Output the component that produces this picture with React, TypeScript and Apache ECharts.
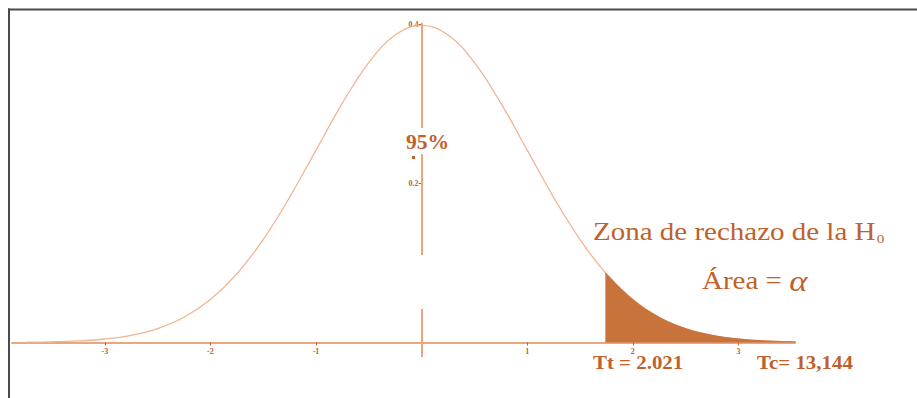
import React, { useEffect, useRef } from "react";
import * as echarts from "echarts";

// Density curve (x in t units, y = density)
const CURVE_X = [
  -3.75, -3.5, -3.25, -3.0, -2.75, -2.5, -2.25, -2.0, -1.75, -1.5, -1.25, -1.0, -0.75, -0.5, -0.25,
  0, 0.25, 0.5, 0.75, 1.0, 1.25, 1.5, 1.75, 2.0, 2.25, 2.5, 2.75, 3.0, 3.25, 3.5, 3.54,
];
const CURVE_Y = [
  0.0004, 0.0009, 0.002, 0.0044, 0.0091, 0.0175, 0.0317, 0.054, 0.0863, 0.1295, 0.1826, 0.242, 0.3011, 0.3521, 0.3867,
  0.3989, 0.3867, 0.3521, 0.3011, 0.242, 0.1826, 0.1295, 0.0863, 0.054, 0.0317, 0.0175, 0.0091, 0.0044, 0.002, 0.0009, 0.0008,
];
// Rejection region (shaded tail)
const SHADE_X = [1.74, 2.0, 2.25, 2.5, 2.75, 3.0, 3.25, 3.54];
const SHADE_Y = [0.0878, 0.054, 0.0317, 0.0175, 0.0091, 0.0044, 0.002, 0.0008];
// Tick values and labels
const X_TICKS = [-3, -2, -1, 1, 2, 3];
const Y_TICKS = [0.2, 0.4];
// Vertical axis drawn in pieces (from, to) in density units
const V_SEGMENTS = [
  [0.4023, 0.2698],
  [0.2371, 0.1101],
  [0.0421, -0.0182],
];
// Texts
const CENTER_LABEL = "95%";
const ZONE_LABEL = "Zona de rechazo de la H";
const ZONE_SUB = "0";
const AREA_LABEL = "Área = ";
const ALPHA = "α";
const TT_LABEL = "Tt = 2.021";
const TC_LABEL = "Tc= 13,144";

const TEXT_COLOR = "#c0612b";
const FILL_COLOR = "#c8733b";
const CURVE_COLOR = "#f0b592";
const AXIS_COLOR = "#eca67e";
const SERIF = "'Liberation Serif', 'Times New Roman', serif";

export default function App() {
  const ref = useRef<HTMLDivElement>(null);
  useEffect(() => {
    if (!ref.current) return;
    const chart = echarts.init(ref.current, null, { renderer: "svg" });
    const pair = (xs: number[], ys: number[]) => xs.map((x, i) => [x, ys[i]]);
    chart.setOption({
      animation: false,
      backgroundColor: "#ffffff",
      grid: { left: 12, top: 2, width: 783, height: 340.5, containLabel: false },
      xAxis: {
        type: "value",
        min: -3.879,
        max: 3.536,
        position: "bottom",
        axisLine: { show: true, onZero: false, lineStyle: { color: AXIS_COLOR, width: 2 } },
        axisTick: { show: true, customValues: X_TICKS, length: 3, lineStyle: { color: TEXT_COLOR, width: 1 } },
        axisLabel: {
          show: true,
          customValues: X_TICKS,
          fontSize: 8,
          fontWeight: "bold",
          color: TEXT_COLOR,
          margin: 5,
          fontFamily: SERIF,
        },
        splitLine: { show: false },
      },
      yAxis: {
        type: "value",
        min: 0,
        max: 0.4283,
        position: "left",
        offset: -409.6,
        axisLine: { show: false, onZero: false },
        axisTick: { show: true, customValues: Y_TICKS, length: 3, lineStyle: { color: TEXT_COLOR, width: 1 } },
        axisLabel: {
          show: true,
          customValues: Y_TICKS,
          fontSize: 8,
          fontWeight: "bold",
          color: TEXT_COLOR,
          margin: 3,
          fontFamily: SERIF,
        },
        splitLine: { show: false },
      },
      series: [
        {
          type: "line",
          data: pair(CURVE_X, CURVE_Y),
          smooth: 0.4,
          showSymbol: false,
          lineStyle: { color: CURVE_COLOR, width: 1.3 },
          z: 2,
        },
        {
          type: "line",
          data: pair(SHADE_X, SHADE_Y),
          smooth: 0.4,
          showSymbol: false,
          lineStyle: { color: FILL_COLOR, width: 1 },
          areaStyle: { color: FILL_COLOR, opacity: 1 },
          z: 3,
        },
        {
          type: "lines",
          coordinateSystem: "cartesian2d",
          clip: false,
          data: V_SEGMENTS.map(([a, b]) => ({ coords: [[0, a], [0, b]] })),
          lineStyle: { color: AXIS_COLOR, width: 2, opacity: 1 },
          z: 4,
        },
      ],
      graphic: [
        { type: "line", shape: { x1: 8, y1: 9.5, x2: 917, y2: 9.5 }, style: { stroke: "#4a4a4a", lineWidth: 2 } },
        { type: "line", shape: { x1: 9, y1: 8.5, x2: 9, y2: 398 }, style: { stroke: "#4a4a4a", lineWidth: 2 } },
        {
          type: "text",
          x: 406,
          y: 142,
          scaleX: 1.08,
          style: {
            text: CENTER_LABEL,
            fill: TEXT_COLOR,
            fontSize: 20,
            fontWeight: "bold",
            fontFamily: SERIF,
            verticalAlign: "middle",
          },
        },
        { type: "rect", shape: { x: 412, y: 156, width: 3, height: 3 }, style: { fill: TEXT_COLOR } },
        {
          type: "text",
          x: 593,
          y: 232,
          scaleX: 1.16,
          style: {
            text: `{m|${ZONE_LABEL}}{s|${ZONE_SUB}}`,
            verticalAlign: "middle",
            rich: {
              m: { fontSize: 25, fontFamily: SERIF, fill: TEXT_COLOR, color: TEXT_COLOR, verticalAlign: "bottom" },
              s: { fontSize: 13, fontFamily: SERIF, fill: TEXT_COLOR, color: TEXT_COLOR, verticalAlign: "bottom", padding: [0, 0, 0, 1] },
            },
          },
        },
        {
          type: "text",
          x: 702,
          y: 281,
          scaleX: 1.16,
          style: {
            text: `{r|${AREA_LABEL}}{a|${ALPHA}}`,
            verticalAlign: "middle",
            rich: {
              r: { fontSize: 25, fontFamily: SERIF, fill: TEXT_COLOR, color: TEXT_COLOR },
              a: { fontSize: 30, fontFamily: SERIF, fontStyle: "italic", fill: TEXT_COLOR, color: TEXT_COLOR },
            },
          },
        },
        {
          type: "text",
          x: 593,
          y: 362,
          scaleX: 1.13,
          style: {
            text: TT_LABEL,
            fill: TEXT_COLOR,
            fontSize: 18.5,
            fontWeight: "bold",
            fontFamily: SERIF,
            verticalAlign: "middle",
          },
        },
        {
          type: "text",
          x: 757,
          y: 362,
          scaleX: 1.13,
          style: {
            text: TC_LABEL,
            fill: TEXT_COLOR,
            fontSize: 18.5,
            fontWeight: "bold",
            fontFamily: SERIF,
            verticalAlign: "middle",
          },
        },
      ],
    });
    return () => chart.dispose();
  }, []);
  return (
    <div
      ref={ref}
      style={{ position: "fixed", left: 0, top: 0, width: 917, height: 398, background: "#fff" }}
    />
  );
}
